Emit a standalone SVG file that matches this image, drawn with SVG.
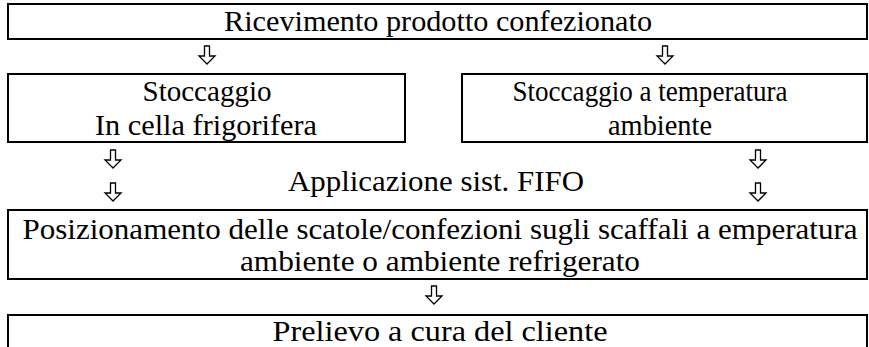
<svg xmlns="http://www.w3.org/2000/svg" width="869" height="347" viewBox="0 0 869 347">
<style>
.box{fill:#fff;stroke:#000;stroke-width:2}
.t{font-family:"Liberation Serif","Times New Roman",serif;font-size:29.5px;fill:#000;text-anchor:middle}
.arr{fill:#fff;stroke:#000;stroke-width:1.3;stroke-linejoin:miter}
</style>
<defs>
<path id="da" class="arr" d="M-2.5,0 H2.5 V10 H8 L0,18 L-8,10 H-2.5 Z"/>
</defs>
<rect width="869" height="347" fill="#fff"/>
<g id="connectors">
<use href="#da" x="207" y="46"/>
<use href="#da" x="665" y="46"/>
<use href="#da" x="113" y="150"/>
<use href="#da" x="113" y="183"/>
<use href="#da" x="758" y="150"/>
<use href="#da" x="758" y="183"/>
<use href="#da" x="434" y="286"/>
</g>
<g id="n-ricevimento">
<rect class="box" x="8" y="4" width="859" height="35"/>
<text class="t" x="438" y="31" textLength="428" lengthAdjust="spacingAndGlyphs">Ricevimento prodotto confezionato</text>
</g>
<g id="n-cella">
<rect class="box" x="8" y="74" width="397" height="68"/>
<text class="t" x="207" y="101" textLength="129" lengthAdjust="spacingAndGlyphs">Stoccaggio</text>
<text class="t" x="206" y="135" textLength="222" lengthAdjust="spacingAndGlyphs">In cella frigorifera</text>
</g>
<g id="n-ambiente">
<rect class="box" x="462" y="74" width="405" height="68"/>
<text class="t" x="650" y="101" textLength="275" lengthAdjust="spacingAndGlyphs">Stoccaggio a temperatura</text>
<text class="t" x="660" y="135" textLength="104" lengthAdjust="spacingAndGlyphs">ambiente</text>
</g>
<g id="n-fifo">
<text class="t" x="436" y="191" textLength="296" lengthAdjust="spacingAndGlyphs">Applicazione sist. FIFO</text>
</g>
<g id="n-posizionamento">
<rect class="box" x="8" y="210" width="859" height="69"/>
<text class="t" x="440" y="239" textLength="835" lengthAdjust="spacingAndGlyphs">Posizionamento delle scatole/confezioni sugli scaffali a emperatura</text>
<text class="t" x="440" y="271" textLength="400" lengthAdjust="spacingAndGlyphs">ambiente o ambiente refrigerato</text>
</g>
<g id="n-prelievo">
<rect class="box" x="8" y="315" width="859" height="45"/>
<text class="t" x="440" y="341" textLength="335" lengthAdjust="spacingAndGlyphs">Prelievo a cura del cliente</text>
</g>
</svg>
